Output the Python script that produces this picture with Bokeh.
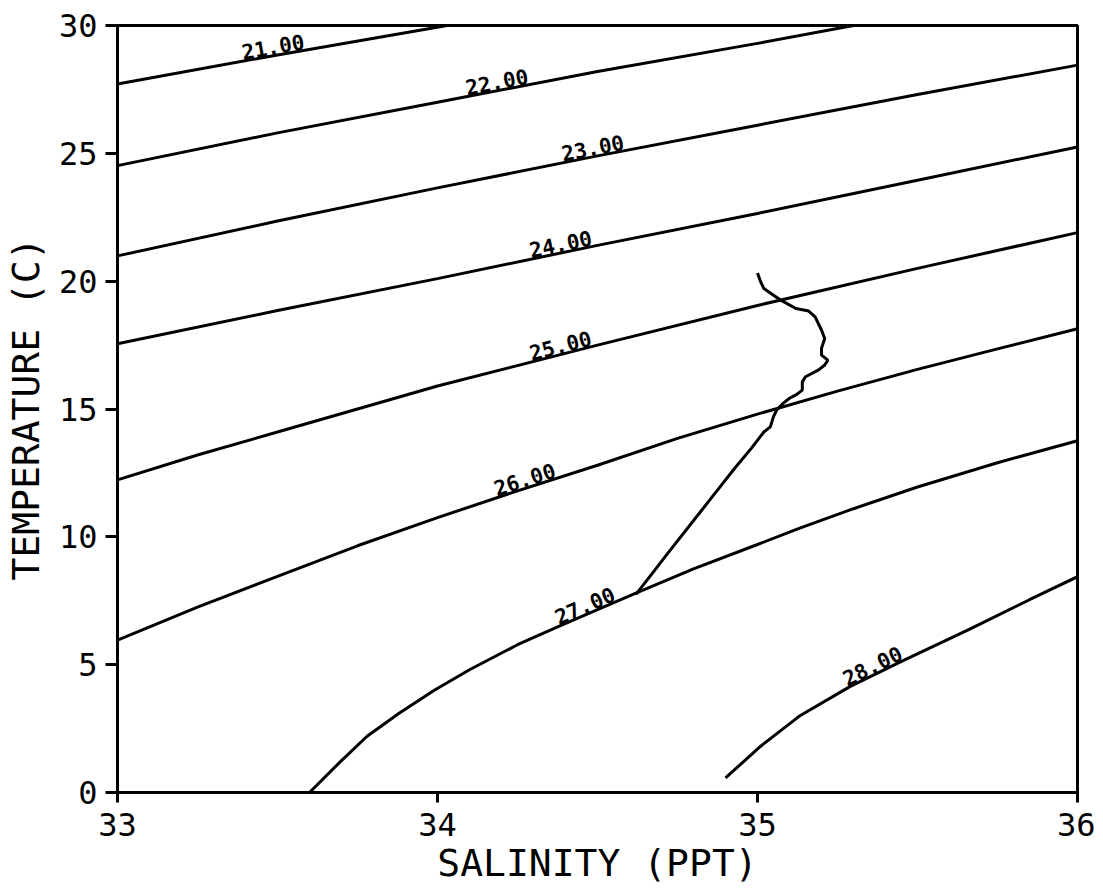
import numpy as np
from bokeh.plotting import figure
from bokeh.models import Range1d, FixedTicker, ColumnDataSource
from bokeh.core.properties import value
from bokeh.embed import file_html
from bokeh.resources import INLINE

# ---- sigma-t isopycnals (salinity PPT, temperature C) ----
sig21_S = [33.00, 33.50, 34.03]
sig21_T = [27.71, 28.85, 30.00]
sig22_S = [33.00, 33.50, 34.00, 34.50, 35.00, 35.30]
sig22_T = [24.52, 25.80, 27.00, 28.20, 29.30, 30.00]
sig23_S = [33.00, 33.50, 34.00, 34.50, 35.00, 35.50, 36.00]
sig23_T = [20.99, 22.35, 23.65, 24.90, 26.10, 27.30, 28.45]
sig24_S = [33.00, 33.50, 34.00, 34.50, 35.00, 35.50, 36.00]
sig24_T = [17.55, 18.85, 20.10, 21.40, 22.65, 23.95, 25.25]
sig25_S = [33.00, 33.25, 33.50, 33.75, 34.00, 34.50, 35.00, 35.50, 36.00]
sig25_T = [12.23, 13.20, 14.10, 15.00, 15.90, 17.50, 19.05, 20.50, 21.90]
sig26_S = [33.00, 33.25, 33.50, 33.75, 34.00, 34.25, 34.50, 34.75, 35.00, 35.25, 35.50, 35.75, 36.00]
sig26_T = [5.96, 7.25, 8.45, 9.65, 10.75, 11.80, 12.80, 13.85, 14.80, 15.70, 16.55, 17.35, 18.14]
sig27_S = [33.60, 33.70, 33.78, 33.88, 33.99, 34.10, 34.25, 34.37, 34.50, 34.62,
           34.80, 35.00, 35.13, 35.30, 35.50, 35.75, 36.00]
sig27_T = [0.00, 1.25, 2.20, 3.10, 4.00, 4.80, 5.78, 6.45, 7.15, 7.80,
           8.75, 9.70, 10.33, 11.10, 11.95, 12.90, 13.76]
sig28_S = [34.90, 35.01, 35.13, 35.29, 35.45, 35.66, 35.85, 36.00]
sig28_T = [0.57, 1.81, 2.98, 4.15, 5.13, 6.37, 7.54, 8.44]

contour_labels = ["21.00", "22.00", "23.00", "24.00", "25.00", "26.00", "27.00", "28.00"]
label_S = [33.49, 34.19, 34.49, 34.39, 34.39, 34.28, 34.47, 35.37]

# ---- observed T-S profile ----
prof_S = [35.00, 35.01, 35.02, 35.05, 35.07, 35.12, 35.16, 35.18, 35.20, 35.21,
          35.20, 35.20, 35.22, 35.21, 35.19, 35.15, 35.14, 35.14, 35.12, 35.10,
          35.08, 35.06, 35.05, 35.04, 35.02, 34.98, 34.93, 34.87, 34.82, 34.72,
          34.67, 34.62]
prof_T = [20.32, 19.97, 19.71, 19.45, 19.28, 18.93, 18.83, 18.60, 18.09, 17.76,
          17.37, 17.11, 16.91, 16.72, 16.52, 16.26, 16.06, 15.74, 15.55, 15.42,
          15.22, 14.96, 14.70, 14.30, 14.10, 13.45, 12.70, 11.75, 10.95, 9.36,
          8.55, 7.75]

x_ticks = [33, 34, 35, 36]
y_ticks = [0, 5, 10, 15, 20, 25, 30]

contours = [(sig21_S, sig21_T), (sig22_S, sig22_T), (sig23_S, sig23_T), (sig24_S, sig24_T),
            (sig25_S, sig25_T), (sig26_S, sig26_T), (sig27_S, sig27_T), (sig28_S, sig28_T)]

W, H = 1095, 887
BL, BR, BT, BB = 117, 18, 25, 94
p = figure(width=W, height=H, x_range=Range1d(33, 36), y_range=Range1d(0, 30),
           output_backend="svg", toolbar_location=None,
           min_border_left=BL, min_border_right=BR, min_border_top=BT, min_border_bottom=BB)

p.xgrid.visible = False
p.ygrid.visible = False
p.outline_line_color = "black"
p.outline_line_width = 3
p.background_fill_color = "white"

for ax in (p.xaxis[0], p.yaxis[0]):
    ax.axis_line_width = 3
    ax.axis_line_color = "black"
    ax.major_tick_line_width = 3
    ax.major_tick_in = 0
    ax.minor_tick_line_color = None
    ax.major_label_text_font = "DejaVu Sans Mono"
    ax.major_label_text_font_size = "32px"
    ax.major_label_text_color = "black"
    ax.axis_label_text_font = "DejaVu Sans Mono"
    ax.axis_label_text_font_style = "normal"
    ax.axis_label_text_font_size = "38px"
    ax.axis_label_text_color = "black"

p.xaxis.ticker = FixedTicker(ticks=x_ticks)
p.yaxis.ticker = FixedTicker(ticks=y_ticks)
p.xaxis.major_tick_out = 10
p.yaxis.major_tick_out = 12
p.xaxis.major_label_standoff = 10
p.yaxis.major_label_standoff = 8
p.xaxis.axis_label = "SALINITY (PPT)"
p.yaxis.axis_label = "TEMPERATURE (C)"
p.xaxis.axis_label_standoff = 2
p.yaxis.axis_label_standoff = 8

for S, T in contours:
    p.line(S, T, line_color="black", line_width=3)

p.line(prof_S, prof_T, line_color="black", line_width=3)

# contour labels placed on their lines, rotated along them
frame_w = W - BL - BR
frame_h = H - BT - BB
px_per_S = frame_w / 3.0
px_per_T = frame_h / 30.0
lx, ly, la = [], [], []
for (S, T), s0 in zip(contours, label_S):
    t0 = float(np.interp(s0, S, T))
    d = 0.08
    t1 = float(np.interp(s0 - d, S, T))
    t2 = float(np.interp(s0 + d, S, T))
    slope_px = ((t2 - t1) * px_per_T) / (2 * d * px_per_S)
    lx.append(s0)
    ly.append(t0)
    la.append(float(np.arctan(slope_px)))

src = ColumnDataSource(dict(x=lx, y=ly, angle=la, text=contour_labels))
p.text(x="x", y="y", text="text", angle="angle", source=src,
       text_font=value("DejaVu Sans Mono"), text_font_style="bold",
       text_font_size="21px", text_align="center", text_baseline="bottom",
       text_color="black", y_offset=-1)

open("out.html", "w").write(file_html(p, INLINE))
